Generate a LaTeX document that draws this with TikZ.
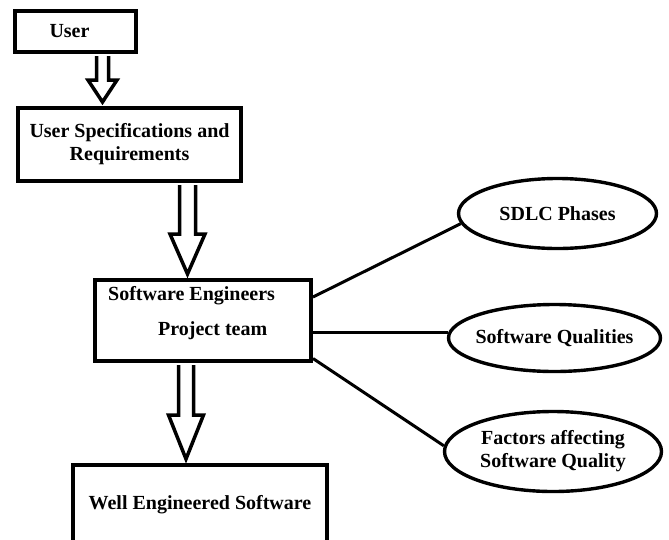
\documentclass[tikz,border=0pt]{standalone}
\usepackage{fontspec}
\setmainfont{Liberation Serif}
\usetikzlibrary{shapes.geometric,calc}
\newcommand\blockarrow[6]{%
  \draw[blk] let \p1=(#1.south), \p2=(#2.north) in
    (#3pt-#4pt,\y1-2pt) -- (#3pt-#4pt,\y2+#6pt) -- (#3pt-#5pt,\y2+#6pt) --
    (#3pt,\y2+4pt) -- (#3pt+#5pt,\y2+#6pt) -- (#3pt+#4pt,\y2+#6pt) --
    (#3pt+#4pt,\y1-2pt);}
\begin{document}
\begin{tikzpicture}[x=1pt,y=-1pt,
  txt/.style={font=\bfseries\fontsize{20}{23}\selectfont},
  box/.style={draw, line width=4pt, rectangle, inner sep=0pt, align=center, txt},
  oval/.style={draw, line width=3.4pt, ellipse, inner sep=0pt, fill=white, align=center, txt},
  lbl/.style={inner sep=0pt, anchor=west, txt},
  link/.style={line width=3pt},
  blk/.style={draw, line width=3.5pt, fill=white, line join=miter, miter limit=10}]
\useasboundingbox (0,0) rectangle (669,539);
\clip (0,0) rectangle (669,539);

\node[box, minimum width=121pt, minimum height=41pt] (user) at (75.5,31.5) {User\hspace*{12pt}};
\node[box, minimum width=223pt, minimum height=73pt] (spec) at (129.5,144.5) {User Specifications and\\Requirements};
\node[box, minimum width=216pt, minimum height=81pt] (se) at (203,320.5) {};
\node[lbl] (se1) at (108,296) {Software Engineers};
\node[lbl] (se2) at (158,331) {Project team};
\node[box, minimum width=254pt, minimum height=80pt] (well) at (200,505) {Well Engineered Software};

\blockarrow{user}{spec}{102.5}{6}{14.5}{26}
\blockarrow{spec}{se}{187.5}{8}{17.5}{44}
\blockarrow{se}{well}{186}{7.5}{17.5}{48}

\node[oval, minimum width=198pt, minimum height=70pt] (sdlc) at (557.5,213.5) {\makebox[0pt]{SDLC Phases}};
\node[oval, minimum width=212pt, minimum height=67pt] (qual) at (554.5,338) {\makebox[0pt]{Software Qualities}};
\node[oval, minimum width=217pt, minimum height=80pt] (fact) at (553,451.5) {\makebox[0pt]{Factors affecting}\\\makebox[0pt]{Software Quality}};

\draw[link] ([yshift=23.5pt]se.east) -- (sdlc.186);
\draw[link] ([yshift=-11.5pt]se.east) -- ([yshift=6pt,xshift=1.5pt]qual.west);
\draw[link] ([yshift=-38pt]se.east) -- (fact.177);
\end{tikzpicture}
\end{document}
